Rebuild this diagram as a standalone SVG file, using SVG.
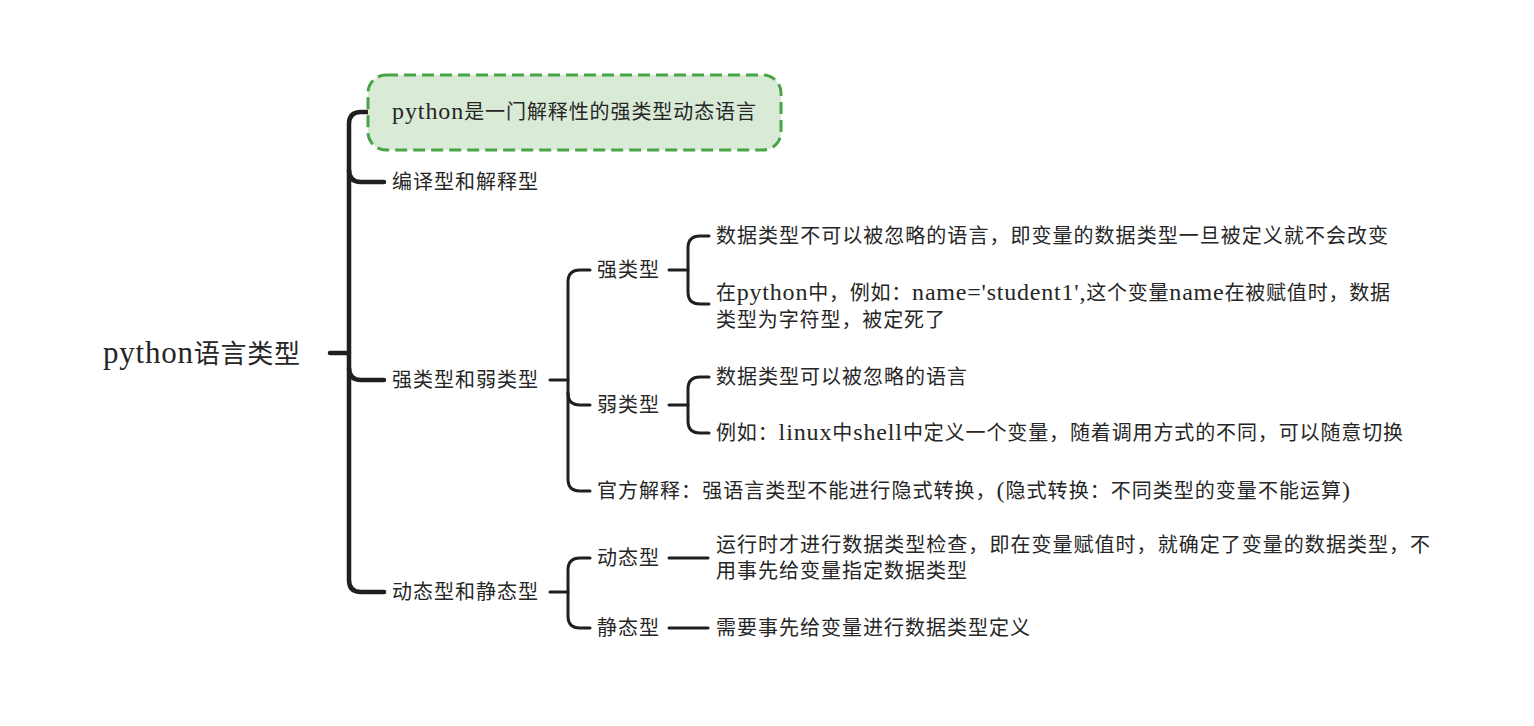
<svg xmlns="http://www.w3.org/2000/svg" width="1534" height="726" viewBox="0 0 1534 726">
<style>
text{font-family:"Liberation Serif","Noto Sans CJK SC",serif;fill:#262626;font-size:20px}
.l{font-size:24px}
.root{font-size:26px}
.root .l{font-size:31px}
.c{fill:none;stroke:#1f1f1f;stroke-linecap:round;stroke-linejoin:round}
.t1{stroke-width:4.5}
.t2{stroke-width:3}
</style>
<rect width="1534" height="726" fill="#ffffff"/>
<g id="connectors">
<path class="c t1" d="M330 353 H349"/>
<path class="c t1" d="M384 112 H361 Q349 112 349 124 V580 Q349 592 361 592 H384"/>
<path class="c t1" d="M349 170 Q349 182 361 182 H384"/>
<path class="c t1" d="M349 368 Q349 380 361 380 H384"/>
<path class="c t2" d="M550 380 H568"/>
<path class="c t2" d="M590 270 H580 Q568 270 568 282 V479 Q568 491 580 491 H590"/>
<path class="c t2" d="M568 393 Q568 405 580 405 H590"/>
<path class="c t2" d="M550 592 H568"/>
<path class="c t2" d="M590 558 H580 Q568 558 568 570 V616 Q568 628 580 628 H590"/>
<path class="c t2" d="M669 270 H688"/>
<path class="c t2" d="M709 236 H700 Q688 236 688 248 V292 Q688 304 700 304 H709"/>
<path class="c t2" d="M669 405 H688"/>
<path class="c t2" d="M709 377 H700 Q688 377 688 389 V421 Q688 433 700 433 H709"/>
<path class="c t2" d="M669 558 H708"/>
<path class="c t2" d="M669 628 H708"/>
</g>
<g id="root"><text class="root" x="103" y="363" textLength="197"><tspan class="l">python</tspan>语言类型</text></g>
<g id="n-summary">
<rect x="368" y="75" width="413" height="75" rx="18" fill="#d9ebd7" stroke="#47a447" stroke-width="3" stroke-dasharray="12 6"/>
<text x="392" y="119" textLength="364"><tspan class="l">python</tspan>是一门解释性的强类型动态语言</text>
</g>
<g id="n-compile"><text x="392" y="189" textLength="146">编译型和解释型</text></g>
<g id="n-strongweak"><text x="392" y="387" textLength="146">强类型和弱类型</text></g>
<g id="n-dynstatic"><text x="392" y="599" textLength="146">动态型和静态型</text></g>
<g id="n-strong"><text x="597" y="277" textLength="62">强类型</text></g>
<g id="n-weak"><text x="597" y="412" textLength="62">弱类型</text></g>
<g id="n-official"><text x="597" y="498" textLength="753">官方解释：强语言类型不能进行隐式转换，<tspan class="l">(</tspan>隐式转换：不同类型的变量不能运算<tspan class="l">)</tspan></text></g>
<g id="n-dynamic"><text x="597" y="565" textLength="62">动态型</text></g>
<g id="n-static"><text x="597" y="635" textLength="62">静态型</text></g>
<g id="n-strong-def"><text x="716" y="243" textLength="672">数据类型不可以被忽略的语言，即变量的数据类型一旦被定义就不会改变</text></g>
<g id="n-strong-ex">
<text x="716" y="300" textLength="674">在<tspan class="l">python</tspan>中，例如：<tspan class="l">name='student1',</tspan>这个变量<tspan class="l">name</tspan>在被赋值时，数据</text>
<text x="716" y="327" textLength="229">类型为字符型，被定死了</text>
</g>
<g id="n-weak-def"><text x="716" y="384" textLength="251">数据类型可以被忽略的语言</text></g>
<g id="n-weak-ex"><text x="716" y="440" textLength="687">例如：<tspan class="l">linux</tspan>中<tspan class="l">shell</tspan>中定义一个变量，随着调用方式的不同，可以随意切换</text></g>
<g id="n-dynamic-def">
<text x="716" y="552" textLength="714">运行时才进行数据类型检查，即在变量赋值时，就确定了变量的数据类型，不</text>
<text x="716" y="578" textLength="251">用事先给变量指定数据类型</text>
</g>
<g id="n-static-def"><text x="716" y="635" textLength="314">需要事先给变量进行数据类型定义</text></g>
</svg>
